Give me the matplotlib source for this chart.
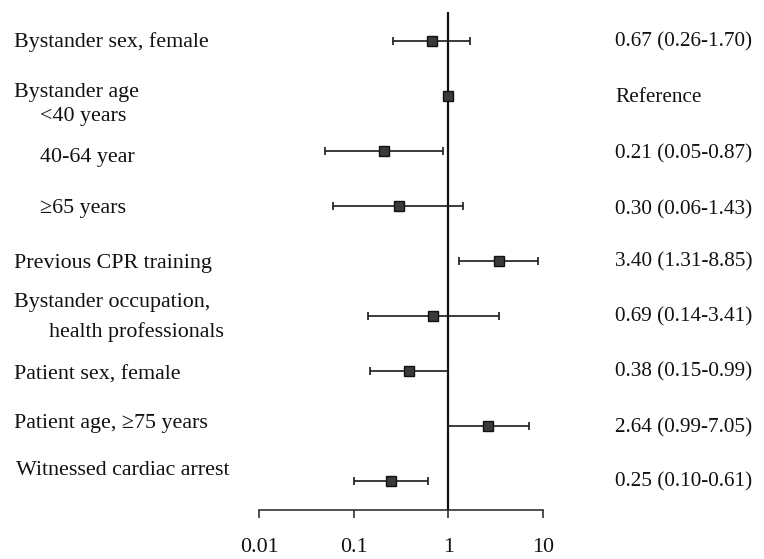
import matplotlib
matplotlib.use("Agg")
import matplotlib.pyplot as plt
import numpy as np

# Data
row_labels = [
    "Bystander sex, female", "<40 years", "40-64 year", "\u226565 years",
    "Previous CPR training", "Bystander occupation, health professionals",
    "Patient sex, female", "Patient age, \u226575 years", "Witnessed cardiac arrest",
]
odds_ratio = [0.67, 1.00, 0.21, 0.30, 3.40, 0.69, 0.38, 2.64, 0.25]
ci_lower = [0.26, 1.00, 0.05, 0.06, 1.31, 0.14, 0.15, 0.99, 0.10]
ci_upper = [1.70, 1.00, 0.87, 1.43, 8.85, 3.41, 0.99, 7.05, 0.61]
right_text = [
    "0.67 (0.26-1.70)", "Reference", "0.21 (0.05-0.87)", "0.30 (0.06-1.43)",
    "3.40 (1.31-8.85)", "0.69 (0.14-3.41)", "0.38 (0.15-0.99)",
    "2.64 (0.99-7.05)", "0.25 (0.10-0.61)",
]
tick_values = [0.01, 0.1, 1, 10]
tick_labels = ["0.01", "0.1", "1", "10"]

# Left-hand label layout (text, x pixel, row position)
left_text = [
    ("Bystander sex, female", 14, 0.02),
    ("Bystander age", 14, 0.93),
    ("<40 years", 40, 1.38),
    ("40-64 year", 40, 2.11),
    ("\u226565 years", 40, 3.05),
    ("Previous CPR training", 14, 4.04),
    ("Bystander occupation,", 14, 4.76),
    ("health professionals", 49, 5.29),
    ("Patient sex, female", 14, 6.07),
    ("Patient age, \u226575 years", 14, 6.95),
    ("Witnessed cardiac arrest", 16, 7.80),
]
right_rows = [0.02, 1.02, 2.05, 3.07, 4.02, 5.02, 6.02, 7.04, 8.02]

plt.rcParams['font.family'] = ['Liberation Serif', 'DejaVu Serif']
FS_L = 15.8
FS_R = 15.3
FS_T = 15.8
TC = '#111111'

W, H = 764, 559
fig = plt.figure(figsize=(W / 100, H / 100), dpi=100)
ax_left, ax_right = 259 / W, 543 / W
ax_bot, ax_top = (H - 510) / H, (H - 12) / H
ax = fig.add_axes([ax_left, ax_bot, ax_right - ax_left, ax_top - ax_bot])

n = len(odds_ratio)
rows = np.arange(n)
ax.set_xscale('log')
ax.set_xlim(0.01, 10)
ax.set_ylim(8.527, -0.527)

or_arr = np.array(odds_ratio)
lo = or_arr - np.array(ci_lower)
hi = np.array(ci_upper) - or_arr
ax.errorbar(or_arr, rows, xerr=[lo, hi], fmt='none', ecolor='#1a1a1a',
            elinewidth=1.2, capsize=2.6, capthick=1.2, zorder=2)
ax.plot(or_arr, rows, linestyle='none', marker='s', markersize=7,
        markerfacecolor='#3a3a3a', markeredgecolor='#111111', zorder=3)

ax.axvline(1, color='#111111', lw=1.6, zorder=1)

for s in ['top', 'right', 'left']:
    ax.spines[s].set_visible(False)
ax.spines['bottom'].set_linewidth(1.1)
ax.spines['bottom'].set_color('#222222')
ax.set_yticks([])
ax.set_xticks(tick_values)
ax.set_xticklabels(tick_labels)
ax.xaxis.set_minor_locator(matplotlib.ticker.NullLocator())
ax.tick_params(axis='x', direction='out', length=6, width=1.1, color='#222222',
               labelsize=FS_T, labelcolor=TC, pad=14)

trans_left = matplotlib.transforms.blended_transform_factory(fig.transFigure, ax.transData)
for txt, xp, r in left_text:
    ax.text(xp / W, r, txt, transform=trans_left, ha='left', va='center',
            fontsize=FS_L, color=TC, clip_on=False)
for txt, r in zip(right_text, right_rows):
    ax.text(615 / W, r, txt, transform=trans_left, ha='left', va='center',
            fontsize=FS_R, color=TC, clip_on=False)

fig.savefig("out.png", dpi=100)
